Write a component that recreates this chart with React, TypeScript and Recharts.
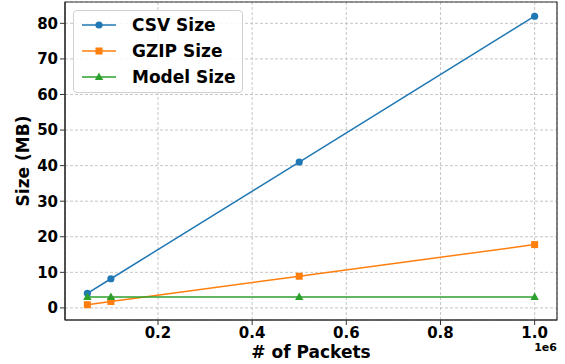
import React from 'react';
import { LineChart, Line, XAxis, YAxis, CartesianGrid, ReferenceArea } from 'recharts';

const packets = [50000, 100000, 500000, 1000000];
const csvSize = [4.1, 8.2, 41.0, 82.0];
const gzipSize = [0.9, 1.8, 8.9, 17.8];
const modelSize = [3.1, 3.1, 3.1, 3.1];

const xTicks = [200000, 400000, 600000, 800000, 1000000];
const yTicks = [0, 10, 20, 30, 40, 50, 60, 70, 80];

const X_DOMAIN: [number, number] = [2500, 1047500];
const Y_DOMAIN: [number, number] = [-3.4, 86];

const data = packets.map((p, i) => ({
  packets: p,
  csv: csvSize[i],
  gzip: gzipSize[i],
  model: modelSize[i],
}));

const FONT = '"DejaVu Sans", sans-serif';

const series = [
  { key: 'csv', name: 'CSV Size', color: '#1f77b4', marker: 'circle' },
  { key: 'gzip', name: 'GZIP Size', color: '#ff7f0e', marker: 'square' },
  { key: 'model', name: 'Model Size', color: '#2ca02c', marker: 'triangle' },
];

const Marker = ({ cx, cy, color, marker }: any) => {
  if (cx == null || cy == null) return null;
  if (marker === 'square') {
    return <rect x={cx - 3.5} y={cy - 3.5} width={7} height={7} fill={color} />;
  }
  if (marker === 'triangle') {
    return <polygon points={`${cx},${cy - 4.5} ${cx - 4.2},${cy + 3} ${cx + 4.2},${cy + 3}`} fill={color} />;
  }
  return <circle cx={cx} cy={cy} r={3.6} fill={color} />;
};

// legend box drawn over the chart, like matplotlib's upper-left legend
const LegendBox = () => (
  <div
    style={{
      position: 'absolute',
      left: 73,
      top: 10,
      width: 170,
      boxSizing: 'border-box',
      border: '1px solid #d0d0d0',
      borderRadius: 4,
      background: 'rgba(255,255,255,0.85)',
      padding: '1px 0 2px 6px',
      fontFamily: FONT,
      fontWeight: 'bold',
      fontSize: 17,
      color: '#000',
    }}
  >
    {series.map((s) => (
      <div key={s.key} style={{ display: 'flex', alignItems: 'center', height: 26 }}>
        <svg width={38} height={12} style={{ marginRight: 14 }}>
          <line x1={2} y1={6} x2={36} y2={6} stroke={s.color} strokeWidth={1.5} />
          <Marker cx={19} cy={6} color={s.color} marker={s.marker} />
        </svg>
        <span>{s.name}</span>
      </div>
    ))}
  </div>
);

export default function App() {
  return (
    <div style={{ position: 'fixed', left: 0, top: 0, width: 565, height: 364, background: '#fff' }}>
      <LineChart width={565} height={364} data={data} margin={{ top: 2, right: 8, left: 0, bottom: 0 }}>
        <CartesianGrid stroke="#b8b8b8" strokeDasharray="3 2" strokeWidth={0.8} />
        <XAxis
          dataKey="packets"
          type="number"
          domain={X_DOMAIN}
          ticks={xTicks}
          allowDataOverflow
          height={44}
          tickFormatter={(v: number) => (v / 1e6).toFixed(1)}
          tick={{ fill: '#000', fontSize: 15, fontWeight: 'bold', fontFamily: FONT }}
          tickSize={5}
          tickLine={{ stroke: '#333' }}
          axisLine={{ stroke: '#333', strokeWidth: 1.2 }}
        />
        <YAxis
          type="number"
          domain={Y_DOMAIN}
          ticks={yTicks}
          allowDataOverflow
          width={65}
          tick={{ fill: '#000', fontSize: 15, fontWeight: 'bold', fontFamily: FONT }}
          tickSize={5}
          tickLine={{ stroke: '#333' }}
          axisLine={{ stroke: '#333', strokeWidth: 1.2 }}
        />
        {series.map((s) => (
          <Line
            key={s.key}
            dataKey={s.key}
            name={s.name}
            stroke={s.color}
            strokeWidth={1.5}
            isAnimationActive={false}
            dot={(props: any) => <Marker key={`${s.key}-${props.index}`} cx={props.cx} cy={props.cy} color={s.color} marker={s.marker} />}
            activeDot={false}
          />
        ))}
        <ReferenceArea x1={X_DOMAIN[0]} x2={X_DOMAIN[1]} y1={Y_DOMAIN[0]} y2={Y_DOMAIN[1]} fill="none" stroke="#333" strokeWidth={1.2} />
        <text x={311} y={358} textAnchor="middle" fontSize={17} fontWeight="bold" fontFamily={FONT} fill="#000">
          # of Packets
        </text>
        <text x={29} y={161} textAnchor="middle" transform="rotate(-90 29 161)" fontSize={17} fontWeight="bold" fontFamily={FONT} fill="#000">
          Size (MB)
        </text>
        <text x={557} y={351} textAnchor="end" fontSize={11} fontWeight="bold" fontFamily={FONT} fill="#000">
          1e6
        </text>
      </LineChart>
      <LegendBox />
    </div>
  );
}
